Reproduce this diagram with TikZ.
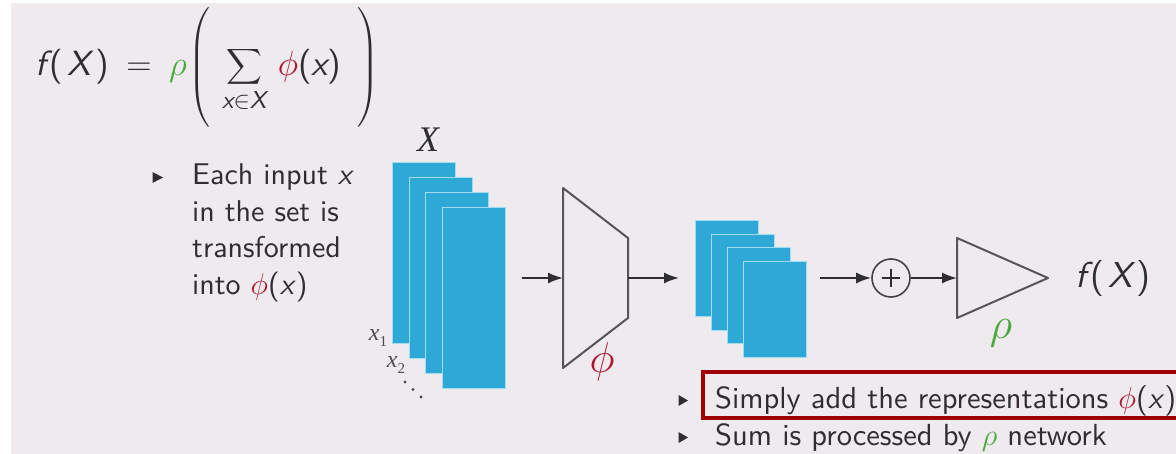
\RequirePackage{fix-cm}
\documentclass[tikz,border=0pt]{standalone}
\usepackage{amsmath}
\usepackage{fontspec}
\setsansfont{lmsans10-regular.otf}[SlantedFont=lmsans10-oblique.otf,ItalicFont=lmsans10-oblique.otf,BoldFont=lmsans10-bold.otf]
\newfontfamily\tms{Liberation Serif}
\usetikzlibrary{arrows.meta}
\definecolor{bg}{RGB}{238,234,237}
\definecolor{blk}{RGB}{45,45,50}
\definecolor{fblue}{RGB}{46,168,214}
\definecolor{fedge}{RGB}{160,220,242}
\definecolor{phired}{RGB}{175,20,45}
\definecolor{rhogreen}{RGB}{70,170,60}
\definecolor{boxred}{RGB}{160,0,0}
\definecolor{trapgray}{RGB}{85,85,90}
\newcommand\sv[1]{\text{\sffamily\slshape #1}}
\newcommand\su[1]{\text{\sffamily #1}}
\newcommand\fX{\sv{f}\kern4pt\su{(}\kern4pt\sv{X}\kern4.5pt\su{)}}
\newcommand\tsz{\fontsize{30}{36}\selectfont}
\begin{document}
\begin{tikzpicture}[x=1pt,y=-1pt,
  arr/.style={draw=blk,line width=2pt,-{Latex[length=15pt,width=11pt]}},
  fmap/.style={fill=fblue,draw=fedge,line width=1pt,anchor=north west,inner sep=0pt,minimum width=63pt},
  netshape/.style={draw=trapgray,line width=2pt,line join=round},
  txt/.style={anchor=base west,inner sep=0pt,text=blk,font=\tsz\sffamily},
  bul/.style={fill=blk}]
\useasboundingbox (0,0) rectangle (1176,454);
\fill[white] (0,0) rectangle (1176,454);
\fill[bg] (11,3) rectangle (1176,454);
\clip (0,0) rectangle (1176,454);
% formula
\node[anchor=base west,inner sep=0pt,text=blk] (eq) at (35,76)
  {\fontsize{35}{42}\selectfont$\displaystyle \fX \mkern4mu = \mkern4mu {\color{rhogreen}\rho}\mkern-2mu\left(\rule[-46pt]{0pt}{110pt}\mkern3mu\sum_{\sv{x}\in \sv{X}}\mkern3mu {\color{phired}\phi}\su{(}\sv{x}\su{)}\mkern8mu\right)$};
% bullet 1
\fill[bul] (152.5,172) -- (163,177.5) -- (152.5,183) -- cycle;
\node[txt] (l1) at (192,185) {Each input \textsl{x}};
\node[txt] (l2) at (192,221.5) {in the set is};
\node[txt] (l3) at (192,258) {transformed};
\node[txt] (l4) at (192,294.5) {into {\color{phired}$\phi$}(\textsl{x})};
% input set
\node[text=blk,inner sep=0pt] (X) at (428,140) {\fontsize{36}{40}\selectfont\tms\itshape X};
\node[fmap,minimum height=181pt] (s1a) at (392,162) {};
\node[fmap,minimum height=181pt] (s1b) at (408.5,177) {};
\node[fmap,minimum height=181pt] (s1c) at (425,192) {};
\node[fmap,minimum height=181pt] (s1d) at (442,207) {};
\node[text=blk!85,inner sep=0pt] (x1) at (378,338) {\fontsize{24}{26}\selectfont\tms\itshape x\raisebox{-0.25em}{\fontsize{15}{16}\selectfont\upshape 1}};
\node[text=blk!85,inner sep=0pt] (x2) at (396,365) {\fontsize{24}{26}\selectfont\tms\itshape x\raisebox{-0.25em}{\fontsize{15}{16}\selectfont\upshape 2}};
\fill[blk!85] (405,382) circle (1.6) (413,389.5) circle (1.6) (421,397) circle (1.6);
% phi network
\coordinate (a1) at (522,278);
\coordinate (t1) at (563,188);
\coordinate (t2) at (628,238);
\coordinate (t3) at (628,318);
\coordinate (t4) at (563,368);
\coordinate (tin) at (563,278);
\coordinate (tout) at (628,278);
\draw[netshape] (t1) -- (t2) -- (t3) -- (t4) -- cycle;
\node[text=phired,inner sep=0pt] (phi) at (602,362) {\fontsize{43}{50}\selectfont$\phi$};
\draw[arr] (a1) -- (tin);
% feature maps
\coordinate (a2) at (679,278);
\draw[arr] (tout) -- (a2);
\node[fmap,minimum height=96pt] (s2a) at (695,220) {};
\node[fmap,minimum height=96pt] (s2b) at (711,234) {};
\node[fmap,minimum height=96pt] (s2c) at (727,247.5) {};
\node[fmap,minimum height=96pt] (s2d) at (743,261) {};
% sum
\coordinate (a3) at (820,278);
\node[circle,draw=blk!90,line width=1.6pt,minimum size=38pt,inner sep=0pt] (plus) at (891,278) {};
\draw[blk,line width=1.6pt] (plus.center) ++(-9,0) -- ++(18,0) (plus.center) ++(0,-9) -- ++(0,18);
\draw[arr] (a3) -- (plus);
% rho network
\coordinate (r1) at (957,238);
\coordinate (r2) at (1048,278);
\coordinate (r3) at (957,318);
\coordinate (rin) at (957,278);
\draw[netshape] (r1) -- (r2) -- (r3) -- cycle;
\draw[arr] (plus) -- (rin);
\node[text=rhogreen,inner sep=0pt] (rho) at (1001,333) {\fontsize{44}{50}\selectfont$\rho$};
\node[anchor=base west,inner sep=0pt,text=blk] (fX) at (1075,288) {\fontsize{36}{42}\selectfont$\fX$};
% bottom bullets
\draw[boxred,line width=4.5pt] (703,372) rectangle (1200,418);
\fill[bul] (678.5,395) -- (688,400.5) -- (678.5,406) -- cycle;
\fill[bul] (678.5,432) -- (688,437.5) -- (678.5,443) -- cycle;
\node[txt,font=\fontsize{30.5}{36}\selectfont\sffamily] (b1) at (715,408) {Simply add the representations {\color{phired}$\phi$}(\textsl{x})};
\node[txt,font=\fontsize{30.5}{36}\selectfont\sffamily] (b2) at (715,445) {Sum is processed by {\color{rhogreen}$\rho$} network};
\end{tikzpicture}
\end{document}
